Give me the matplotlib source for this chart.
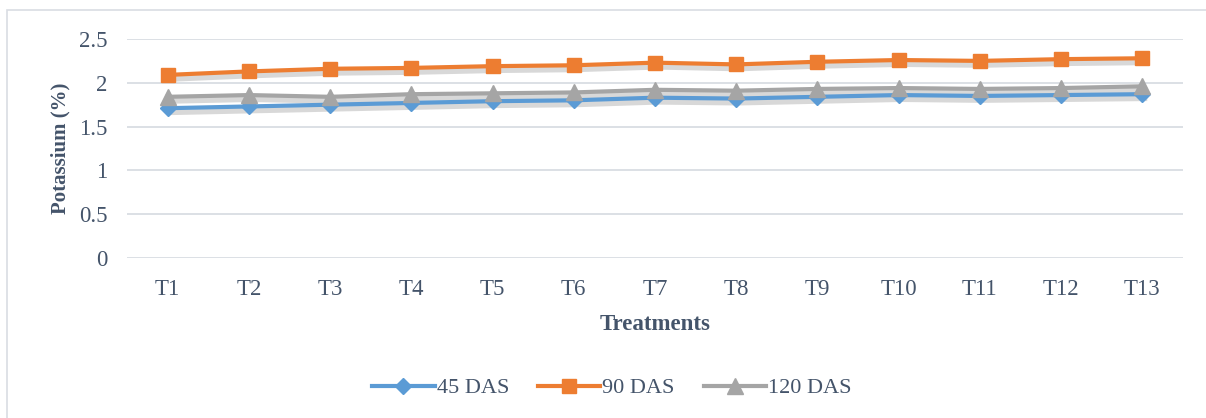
import matplotlib.pyplot as plt
import matplotlib.patheffects as pe
from matplotlib.patches import Rectangle

plt.rcParams['font.family'] = ['Liberation Serif', 'DejaVu Serif']

treatments = ['T1', 'T2', 'T3', 'T4', 'T5', 'T6', 'T7', 'T8', 'T9', 'T10', 'T11', 'T12', 'T13']
das45 = [1.71, 1.73, 1.75, 1.77, 1.79, 1.80, 1.83, 1.82, 1.84, 1.86, 1.85, 1.86, 1.87]
das90 = [2.09, 2.13, 2.16, 2.17, 2.19, 2.20, 2.23, 2.21, 2.24, 2.26, 2.25, 2.27, 2.28]
das120 = [1.84, 1.86, 1.84, 1.87, 1.88, 1.89, 1.92, 1.91, 1.93, 1.94, 1.93, 1.94, 1.96]
y_ticks = [0, 0.5, 1, 1.5, 2, 2.5]

text_col = '#44546A'
grid_col = '#D9DDE3'

fig = plt.figure(figsize=(12.06, 4.18), dpi=100)
# chart area border
fig.patches.append(Rectangle((7 / 1206, -0.01), 1.2, 1 - 10 / 418 + 0.01,
                             transform=fig.transFigure, fill=False,
                             edgecolor=grid_col, linewidth=1.2))

ax = fig.add_axes([127 / 1206, 1 - 258 / 418, (1183 - 127) / 1206, (258 - 39) / 418])
x = list(range(len(treatments)))

# soft drop shadow under each line (no markers)
shadow = [pe.SimpleLineShadow(offset=(1.5, -3), shadow_color='gray', alpha=0.3)]
for vals in (das45, das90, das120):
    ax.plot(x, vals, color='none', lw=4, path_effects=shadow, zorder=1)

ax.plot(x, das45, color='#5B9BD5', lw=3, marker='D', ms=8, label='45 DAS', zorder=3)
ax.plot(x, das90, color='#ED7D31', lw=3, marker='s', ms=10, label='90 DAS', zorder=3)
ax.plot(x, das120, color='#A5A5A5', lw=3, marker='^', ms=11, label='120 DAS', zorder=3)

ax.set_xlim(-0.5, len(treatments) - 0.5)
ax.set_ylim(0, 2.5)
ax.set_yticks(y_ticks)
ax.set_yticklabels(['0', '0.5', '1', '1.5', '2', '2.5'])
ax.set_xticks(x)
ax.set_xticklabels(treatments)
ax.grid(axis='y', color=grid_col, lw=1.3)
ax.set_axisbelow(True)
for s in ax.spines.values():
    s.set_visible(False)
ax.tick_params(length=0, labelsize=16.5, colors=text_col)
ax.tick_params(axis='y', pad=14)
ax.tick_params(axis='x', pad=15)

ax.set_xlabel('Treatments', fontsize=16.5, fontweight='bold', color=text_col, labelpad=10)
ax.set_ylabel('Potassium (%)', fontsize=15, fontweight='bold', color=text_col, labelpad=6)

fig.legend(loc='center', bbox_to_anchor=(612 / 1206, 1 - 388 / 418), ncol=3, frameon=False,
           fontsize=16, labelcolor=text_col, handlelength=2.8, handletextpad=0.1,
           columnspacing=1.3)

fig.savefig('out.png', dpi=100)
